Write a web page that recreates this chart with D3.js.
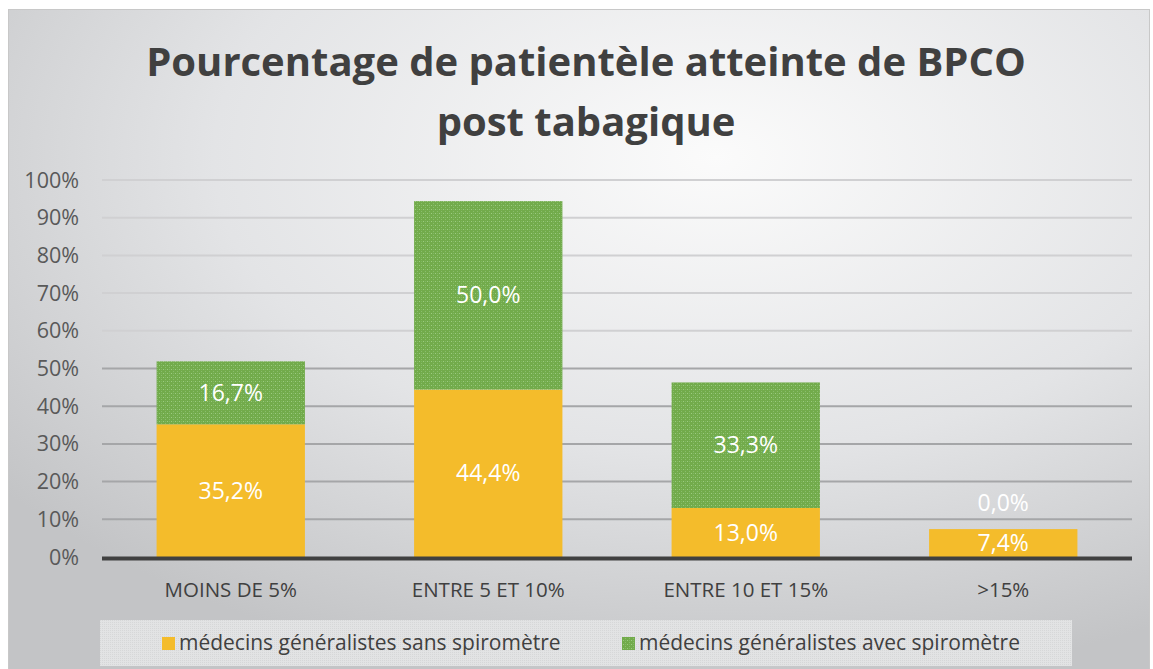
<!DOCTYPE html>
<html>
<head>
<meta charset="utf-8">
<script src="https://cdn.jsdelivr.net/npm/d3@7"></script>
<style>
  body { margin: 0; background: #fff; }
  text { font-family: "Open Sans", "Noto Sans", sans-serif; }
</style>
</head>
<body>
<div id="chart"></div>
<script>
// data
var categories = ["MOINS DE 5%", "ENTRE 5 ET 10%", "ENTRE 10 ET 15%", ">15%"];
var sansSpiro = [35.2, 44.4, 13.0, 7.4];
var avecSpiro = [16.7, 50.0, 33.3, 0.0];
var seriesNames = ["médecins généralistes sans spiromètre", "médecins généralistes avec spiromètre"];
var yTicks = [0, 10, 20, 30, 40, 50, 60, 70, 80, 90, 100];
var titleLines = ["Pourcentage de patientèle atteinte de BPCO", "post tabagique"];

var W = 1153, H = 669;
var margin = {top: 180, right: 21, bottom: 112, left: 102};
var width = W - margin.left - margin.right,
    height = H - margin.top - margin.bottom;

var svg = d3.select("#chart").append("svg")
    .attr("width", W)
    .attr("height", H);

var defs = svg.append("defs");
var bg = defs.append("radialGradient").attr("id", "bg")
    .attr("cx", "62%").attr("cy", "22%").attr("r", "80%");
bg.append("stop").attr("offset", "0%").attr("stop-color", "#fbfbfb");
bg.append("stop").attr("offset", "55%").attr("stop-color", "#e3e4e6");
bg.append("stop").attr("offset", "100%").attr("stop-color", "#c3c4c6");

var pat = defs.append("pattern").attr("id", "greenPat")
    .attr("width", 4).attr("height", 4).attr("patternUnits", "userSpaceOnUse");
pat.append("rect").attr("width", 4).attr("height", 4).attr("fill", "#72ab4b");
pat.append("rect").attr("x", 1).attr("y", 1).attr("width", 1).attr("height", 1).attr("fill", "#9ccb80");
pat.append("rect").attr("x", 3).attr("y", 3).attr("width", 1).attr("height", 1).attr("fill", "#8abd6c");
pat.append("rect").attr("x", 3).attr("y", 1).attr("width", 1).attr("height", 1).attr("fill", "#80b762");

var lpat = defs.append("pattern").attr("id", "legPat")
    .attr("width", 2).attr("height", 2).attr("patternUnits", "userSpaceOnUse");
lpat.append("rect").attr("width", 2).attr("height", 2).attr("fill", "#e2e3e4");
lpat.append("rect").attr("width", 1).attr("height", 1).attr("fill", "#d6d7d8");

// background frame
svg.append("rect")
    .attr("x", 8.5).attr("y", 9.5)
    .attr("width", W - 12).attr("height", H)
    .attr("fill", "url(#bg)")
    .attr("stroke", "#c8c8c8");

// title
svg.append("text")
    .attr("x", 586).attr("y", 76)
    .attr("text-anchor", "middle")
    .style("font-size", "40px").style("font-weight", "bold")
    .style("fill", "#404040")
    .selectAll("tspan").data(titleLines).enter().append("tspan")
    .attr("x", 586).attr("dy", (d, i) => i ? 60 : 0)
    .text(d => d);

var g = svg.append("g")
    .attr("transform", "translate(" + margin.left + "," + margin.top + ")");

var x = d3.scaleBand().domain(categories).range([0, width]).paddingInner(0.424).paddingOuter(0.212);
var y = d3.scaleLinear().domain([0, 100]).range([height, 0]);

// gridlines
g.selectAll(".grid").data(yTicks.slice(1)).enter().append("line")
    .attr("x1", 0).attr("x2", width)
    .attr("y1", d => y(d)).attr("y2", d => y(d))
    .attr("stroke", d => d > 50 ? "#d0d0d2" : "#a5a6a8")
    .attr("stroke-width", 2);

// y labels
g.selectAll(".ylab").data(yTicks).enter().append("text")
    .attr("x", -23).attr("y", d => y(d))
    .attr("dy", "0.35em")
    .attr("text-anchor", "end")
    .style("font-size", "21.5px").style("fill", "#595959")
    .text(d => d + "%");

var fmt = v => v.toFixed(1).replace(".", ",") + "%";

// bars
var bars = g.selectAll(".cat").data(categories).enter().append("g");
bars.append("rect")
    .attr("x", d => x(d)).attr("width", x.bandwidth())
    .attr("y", (d, i) => y(sansSpiro[i]))
    .attr("height", (d, i) => y(0) - y(sansSpiro[i]))
    .attr("fill", "#f4bc2b");
bars.append("rect")
    .attr("x", d => x(d)).attr("width", x.bandwidth())
    .attr("y", (d, i) => y(sansSpiro[i] + avecSpiro[i]))
    .attr("height", (d, i) => y(sansSpiro[i]) - y(sansSpiro[i] + avecSpiro[i]))
    .attr("fill", "url(#greenPat)");

// labels
bars.append("text")
    .attr("x", d => x(d) + x.bandwidth() / 2)
    .attr("y", (d, i) => y(sansSpiro[i] / 2))
    .attr("dy", "0.35em").attr("text-anchor", "middle")
    .style("font-size", "23px").style("fill", "#fff")
    .text((d, i) => fmt(sansSpiro[i]));
bars.append("text")
    .attr("x", d => x(d) + x.bandwidth() / 2)
    .attr("y", (d, i) => avecSpiro[i] > 0 ? y(sansSpiro[i] + avecSpiro[i] / 2) : y(sansSpiro[i]) - 26)
    .attr("dy", "0.35em").attr("text-anchor", "middle")
    .style("font-size", "23px").style("fill", "#fff")
    .text((d, i) => fmt(avecSpiro[i]));

// baseline
g.append("line")
    .attr("x1", 0).attr("x2", width)
    .attr("y1", y(0) + 1.5).attr("y2", y(0) + 1.5)
    .attr("stroke", "#404040").attr("stroke-width", 4);

// x labels
g.selectAll(".xlab").data(categories).enter().append("text")
    .attr("x", d => x(d) + x.bandwidth() / 2)
    .attr("y", height + 33)
    .attr("dy", "0.35em").attr("text-anchor", "middle")
    .style("font-size", "20.5px").style("fill", "#404040")
    .text(d => d);

// legend
svg.append("rect")
    .attr("x", 100).attr("y", 620).attr("width", 972).attr("height", 46)
    .attr("fill", "url(#legPat)");
var legColors = ["#f4bc2b", "url(#greenPat)"];
var legX = [162, 622];
var leg = svg.selectAll(".leg").data(seriesNames).enter().append("g")
    .attr("transform", (d, i) => "translate(" + legX[i] + ",643)");
leg.append("rect").attr("x", 0).attr("y", -6).attr("width", 13).attr("height", 13)
    .attr("fill", (d, i) => legColors[i]);
leg.append("text").attr("x", 17).attr("dy", "0.35em")
    .style("font-size", "21px").style("fill", "#404040")
    .text(d => d);
</script>
</body>
</html>
